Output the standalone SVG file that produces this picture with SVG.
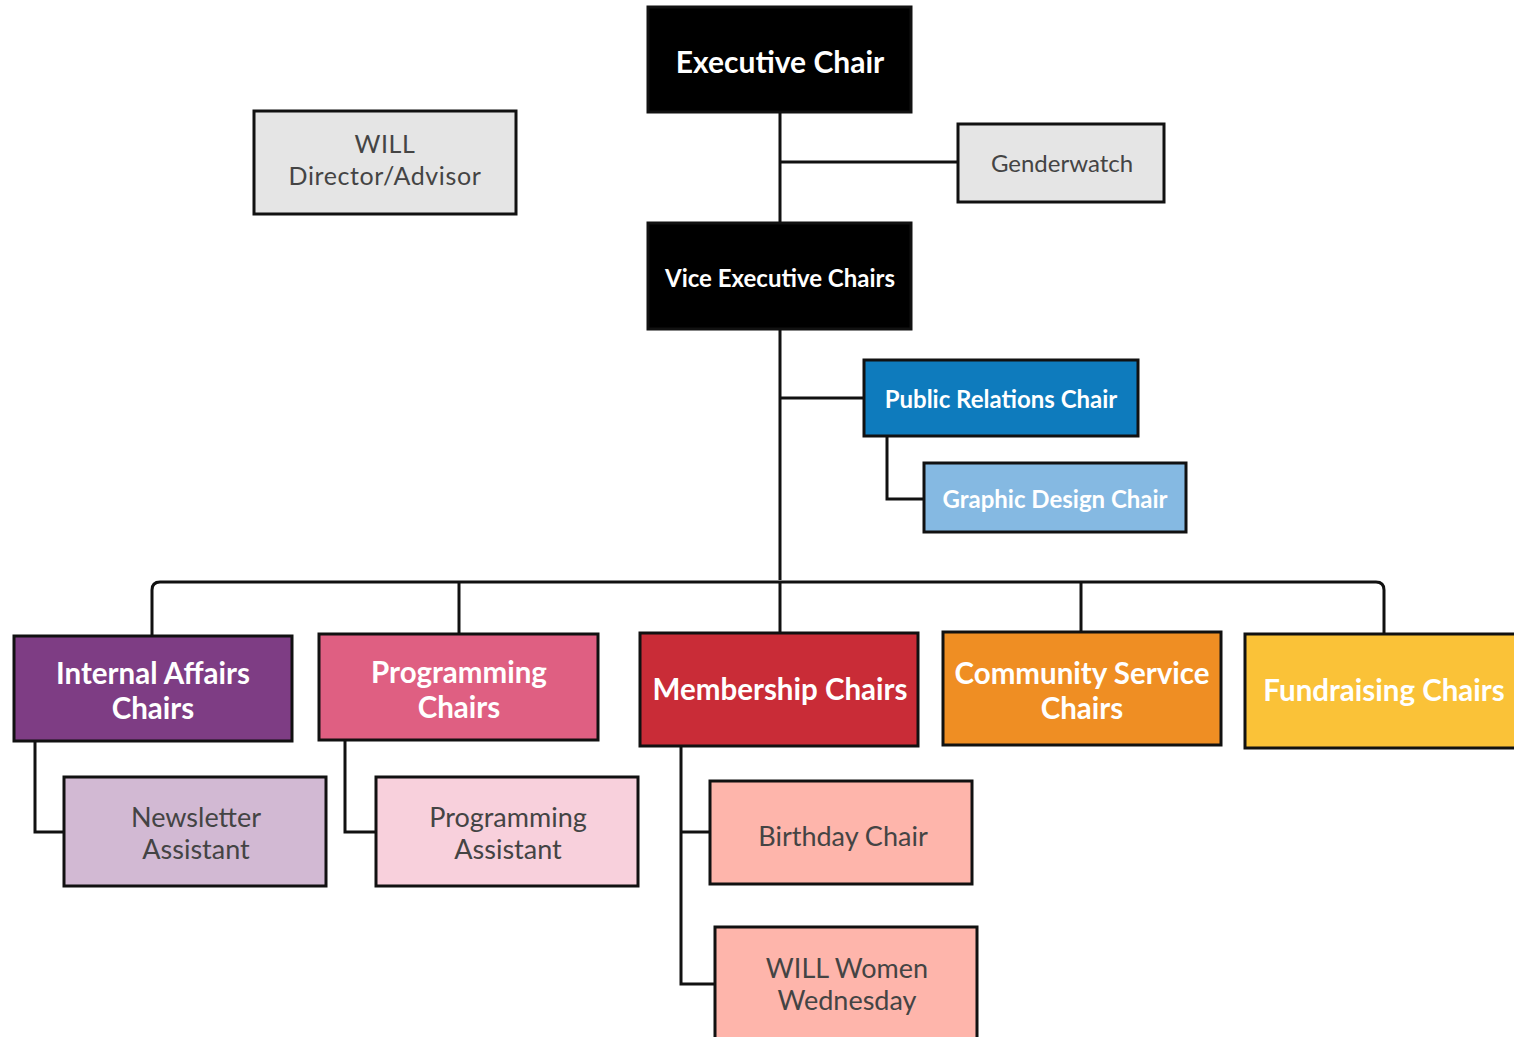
<svg xmlns="http://www.w3.org/2000/svg" width="1514" height="1037" viewBox="0 0 1514 1037">
<style>
.box{stroke:#111;stroke-width:3}
.t{font-family:Lato,"Open Sans","Liberation Sans",sans-serif;text-anchor:middle;dominant-baseline:central}
.w{fill:#fff;font-weight:bold}
.g{fill:#444}
.c{fill:none;stroke:#111;stroke-width:3}
</style>
<rect width="1514" height="1037" fill="#fff"/>
<g id="connectors">
<path class="c" d="M780 112 V580"/>
<path class="c" d="M780 162 H958"/>
<path class="c" d="M780 398 H864"/>
<path class="c" d="M887 436 V499 H924"/>
<path class="c" d="M152 636 V590 Q152 582 160 582 H1376 Q1384 582 1384 590 V634"/>
<path class="c" d="M459 582 V634"/>
<path class="c" d="M780 582 V633"/>
<path class="c" d="M1081 582 V632"/>
<path class="c" d="M35 741 V832 H64"/>
<path class="c" d="M345 740 V832 H376"/>
<path class="c" d="M681 746 V984 H715"/>
<path class="c" d="M681 832 H710"/>
</g>
<g id="executive-chair">
<rect class="box" x="648" y="7" width="263" height="105" fill="#000"/>
<text class="t w" x="780" y="61" font-size="30">Executive Chair</text>
</g>
<g id="will-director">
<rect class="box" x="254" y="111" width="262" height="103" fill="#e5e5e5"/>
<text class="t g" x="385" y="143" font-size="25" letter-spacing="0.6">WILL</text>
<text class="t g" x="385" y="175" font-size="25" letter-spacing="0.6">Director/Advisor</text>
</g>
<g id="genderwatch">
<rect class="box" x="958" y="124" width="206" height="78" fill="#e5e5e5"/>
<text class="t g" x="1062" y="162" font-size="24">Genderwatch</text>
</g>
<g id="vice-executive-chairs">
<rect class="box" x="648" y="223" width="263" height="106" fill="#000"/>
<text class="t w" x="780" y="277" font-size="24">Vice Executive Chairs</text>
</g>
<g id="public-relations-chair">
<rect class="box" x="864" y="360" width="274" height="76" fill="#0e7bbd"/>
<text class="t w" x="1001" y="398" font-size="24">Public Relations Chair</text>
</g>
<g id="graphic-design-chair">
<rect class="box" x="924" y="463" width="262" height="69" fill="#85b9e2"/>
<text class="t w" x="1055" y="498" font-size="24">Graphic Design Chair</text>
</g>
<g id="internal-affairs-chairs">
<rect class="box" x="14" y="636" width="278" height="105" fill="#7e3d84"/>
<text class="t w" x="153" y="672" font-size="29.5">Internal Affairs</text>
<text class="t w" x="153" y="707" font-size="29.5">Chairs</text>
</g>
<g id="programming-chairs">
<rect class="box" x="319" y="634" width="279" height="106" fill="#df5f82"/>
<text class="t w" x="459" y="671" font-size="29.5">Programming</text>
<text class="t w" x="459" y="706" font-size="29.5">Chairs</text>
</g>
<g id="membership-chairs">
<rect class="box" x="640" y="633" width="278" height="113" fill="#c92c37"/>
<text class="t w" x="780" y="688" font-size="29.5">Membership Chairs</text>
</g>
<g id="community-service-chairs">
<rect class="box" x="943" y="632" width="278" height="113" fill="#ef8e23"/>
<text class="t w" x="1082" y="672" font-size="29.5">Community Service</text>
<text class="t w" x="1082" y="707" font-size="29.5">Chairs</text>
</g>
<g id="fundraising-chairs">
<rect class="box" x="1245" y="634" width="280" height="114" fill="#fac238"/>
<text class="t w" x="1384" y="689" font-size="29.5">Fundraising Chairs</text>
</g>
<g id="newsletter-assistant">
<rect class="box" x="64" y="777" width="262" height="109" fill="#d2b9d3"/>
<text class="t g" x="196" y="816" font-size="27">Newsletter</text>
<text class="t g" x="196" y="848" font-size="27">Assistant</text>
</g>
<g id="programming-assistant">
<rect class="box" x="376" y="777" width="262" height="109" fill="#f8d0dc"/>
<text class="t g" x="508" y="816" font-size="27">Programming</text>
<text class="t g" x="508" y="848" font-size="27">Assistant</text>
</g>
<g id="birthday-chair">
<rect class="box" x="710" y="781" width="262" height="103" fill="#feb5ab"/>
<text class="t g" x="843" y="835" font-size="27">Birthday Chair</text>
</g>
<g id="will-women-wednesday">
<rect class="box" x="715" y="927" width="262" height="115" fill="#feb5ab"/>
<text class="t g" x="847" y="967" font-size="27">WILL Women</text>
<text class="t g" x="847" y="999" font-size="27">Wednesday</text>
</g>
</svg>
